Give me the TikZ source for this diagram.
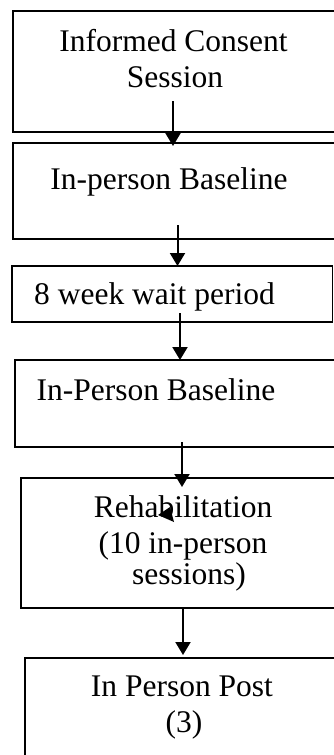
\documentclass[tikz,border=0pt]{standalone}
\usepackage{fontspec}
\setmainfont{Liberation Serif}
\usetikzlibrary{arrows.meta}
\tikzset{
  box/.style={draw=black, line width=1.5pt, rectangle, anchor=north west, inner sep=0pt, outer sep=0pt},
  txt/.style={anchor=base, inner sep=0pt, font=\fontsize{31.5}{36}\selectfont},
  arr/.style={line width=2pt, -{Triangle[width=15pt,length=13pt]}}
}
\begin{document}
\begin{tikzpicture}[x=1pt,y=-1pt]
\useasboundingbox (0,0) rectangle (334,755);
\clip (0,0) rectangle (334,755);
\fill[white] (0,0) rectangle (334,755);
% boxes
\node[box, minimum width=340pt, minimum height=121pt] (b1) at (13,11) {};
\node[box, minimum width=340pt, minimum height=96pt] (b2) at (13,143) {};
\node[box, minimum width=320.5pt, minimum height=56pt] (b3) at (12,266) {};
\node[box, minimum width=340pt, minimum height=87pt] (b4) at (15,360) {};
\node[box, minimum width=340pt, minimum height=130pt] (b5) at (21,478) {};
\node[box, minimum width=340pt, minimum height=120pt] (b6) at (25,658) {};
% texts
\node[txt] (t1a) at (173.5,51) {Informed Consent};
\node[txt] (t1b) at (175,87) {Session};
\node[txt] (t2) at (169,189) {In-person Baseline};
\node[txt] (t3) at (154.5,304) {8 week wait period};
\node[txt] (t4) at (156,400) {In-Person Baseline};
\node[txt] (t5a) at (183,517) {Rehabilitation};
\node[txt] (t5b) at (183,553) {(10 in-person};
\node[txt] (t5c) at (189,584) {sessions)};
\node[txt] (t6a) at (182,696) {In Person Post};
\node[txt] (t6b) at (184,732) {(3)};
% arrow starts
\coordinate (s1) at (173,101);
\coordinate (s2) at (177.5,225);
\coordinate (s3) at (180,313);
\coordinate (s4) at (182,442);
\coordinate (s5) at (183,607);
\draw[arr] (s1) -- ([yshift=-3pt]s1 |- b2.north);
\draw[arr] (s2) -- (s2 |- b3.north);
\draw[arr] (s3) -- (s3 |- b4.north);
\draw[arr] (s4) -- ([yshift=-9pt]s4 |- b5.north);
\draw[arr] (s5) -- ([yshift=3pt]s5 |- b6.north);
% stray arrowhead
\fill[black] (158,515) -- (170,507) -- (174,522) -- cycle;
\end{tikzpicture}
\end{document}
